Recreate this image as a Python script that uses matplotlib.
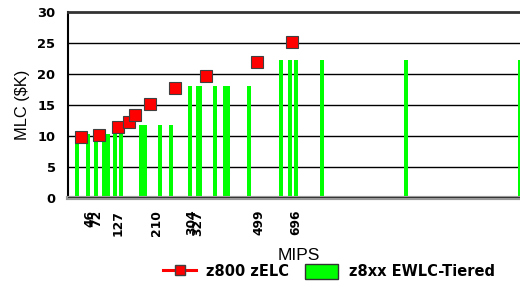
import matplotlib
matplotlib.use("Agg")
import matplotlib.pyplot as plt
from matplotlib.lines import Line2D
from matplotlib.patches import Patch

# x positions are in the chart's MIPS axis units
zelc_mips = [40, 98, 155, 190, 208, 257, 334, 431, 590, 701]
zelc_cost = [9.8, 10.1, 11.45, 12.25, 13.45, 15.2, 17.8, 19.7, 21.9, 25.2]

ewlc_mips = [28, 61, 86, 111, 124, 148, 167, 227, 240, 286, 322,
             381, 406, 414, 458, 491, 500, 566, 666, 693, 711, 795, 1055, 1411]
ewlc_cost = [10.3, 10.3, 10.3, 10.3, 10.3, 10.3, 10.3, 11.8, 11.8, 11.8, 11.8,
             18.0, 18.0, 18.0, 18.0, 18.0, 18.0, 18.0, 22.2, 22.2, 22.2, 22.2, 22.2, 22.2]

tick_pos = [69, 88, 156, 278, 386, 405, 597, 712]
tick_labels = ["46", "72", "127", "210", "304", "327", "499", "696"]

fig = plt.figure(figsize=(5.2, 2.82), dpi=100)
ax = fig.add_axes([68 / 520, 84 / 282, 460 / 520, 186 / 282])

ax.bar(ewlc_mips, ewlc_cost, width=12.5, color="#00ff00", linewidth=0, zorder=2)
ax.plot(zelc_mips, zelc_cost, linestyle="none", marker="s", markersize=8,
        markerfacecolor="#ff0000", markeredgecolor="#404040", markeredgewidth=0.8, zorder=3)

ax.set_xlim(0, 1437.5)
ax.set_ylim(0, 30)
ax.set_yticks([0, 5, 10, 15, 20, 25, 30])
for y in [5, 10, 15, 20, 25]:
    ax.axhline(y, color="black", linewidth=1, zorder=1)
ax.axhline(0, color="#222222", linewidth=1.2, zorder=4)

ax.set_xticks(tick_pos)
ax.set_xticklabels(tick_labels, rotation=90, fontfamily="DejaVu Sans",
                   fontweight="bold", fontsize=8.8)
ax.tick_params(axis="x", length=0, pad=8.5)
ax.tick_params(axis="y", length=0, pad=9)
for lbl in ax.get_yticklabels():
    lbl.set_fontfamily("DejaVu Sans")
    lbl.set_fontweight("bold")
    lbl.set_fontsize(9.4)

ax.spines["top"].set_color("#333333")
ax.spines["top"].set_linewidth(2)
ax.spines["bottom"].set_color("#999999")
ax.spines["bottom"].set_linewidth(3)
ax.spines["left"].set_color("black")
ax.spines["left"].set_linewidth(1.5)
ax.spines["right"].set_visible(False)

ax.set_ylabel("MLC ($K)", fontfamily="Liberation Sans", fontsize=11.8, labelpad=5)
fig.text(299 / 520, 1 - 255 / 282, "MIPS", fontfamily="Liberation Sans", fontsize=12.5,
         ha="center", va="center")

handles = [
    Line2D([0], [0], color="#ff0000", linewidth=2.2, marker="s", markersize=7.5,
           markerfacecolor="#ff0000", markeredgecolor="#404040"),
    Patch(facecolor="#00ff00", edgecolor="#333333"),
]
leg = fig.legend(handles, ["z800 zELC", "z8xx EWLC-Tiered"], loc="center left",
                 bbox_to_anchor=(161 / 520, 1 - 271.5 / 282), ncol=2, frameon=True,
                 prop={"family": "DejaVu Sans", "weight": "bold", "size": 10.5},
                 handlelength=2.26, handleheight=1.23, columnspacing=1.1,
                 handletextpad=0.7, borderaxespad=0, borderpad=0.15)
leg.get_frame().set_facecolor("white")
leg.get_frame().set_edgecolor("none")
leg.get_frame().set_alpha(1)
leg.get_frame().set_boxstyle("square", pad=0)
leg.set_zorder(10)

fig.savefig("out.png", dpi=100)
